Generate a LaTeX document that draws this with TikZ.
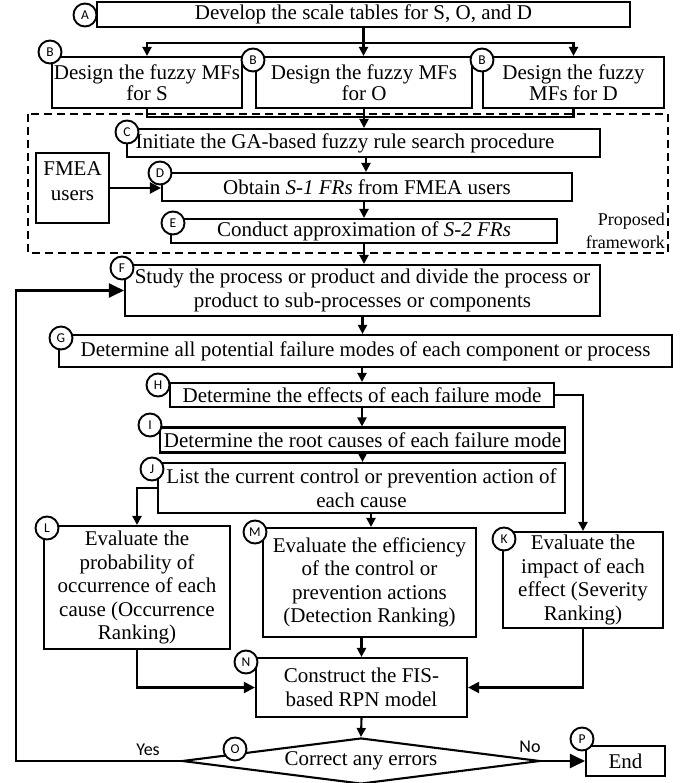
\documentclass[tikz,border=0pt]{standalone}
\usepackage{fontspec}
\setmainfont{Liberation Serif}
\newfontfamily\labfont{Carlito}
\usetikzlibrary{arrows.meta,shapes.geometric}
\begin{document}
\begin{tikzpicture}[x=1pt,y=-1pt,
  box/.style={draw, line width=2.1pt, inner sep=0pt, align=center, font=\fontsize{21}{23.5}\selectfont},
  txt/.style={inner sep=0pt, align=center, font=\fontsize{21}{25}\selectfont},
  lab/.style={circle, draw, line width=1.9pt, fill=white, minimum size=23pt, inner sep=0pt, font=\labfont\fontsize{13.5}{13.5}\selectfont},
  con/.style={line width=2.1pt},
  arr/.style={con, -{Triangle[length=9pt,width=9pt]}},
  midarr/.style={con, -{Triangle[length=11pt,width=11pt]}},
  bigarr/.style={con, -{Triangle[length=15pt,width=14pt]}},
  yn/.style={font=\labfont\fontsize{18}{18}\selectfont, inner sep=0pt}
]
\useasboundingbox (0,0) rectangle (695,783);

% boxes
\node[box, minimum width=533pt, minimum height=25pt] (A) at (363.5,14.5) {Develop the scale tables for S, O, and D};
\node[box, font=\fontsize{21}{21}\selectfont, minimum width=190pt, minimum height=51pt] (B1) at (147,82.5) {Design the fuzzy MFs\\for S};
\node[box, font=\fontsize{21}{21}\selectfont, minimum width=216pt, minimum height=51pt] (B2) at (364,82.5) {Design the fuzzy MFs\\for O};
\node[box, font=\fontsize{21}{21}\selectfont, minimum width=181pt, minimum height=51pt] (B3) at (573.5,82.5) {Design the fuzzy\\MFs for D};

\draw[line width=2pt, dash pattern=on 8pt off 5pt] (28,114) rectangle (668,253);

\node[box, minimum width=473pt, minimum height=28pt] (C) at (363.5,143) {Initiate the GA-based fuzzy rule search procedure\hspace*{37pt}};
\node[box, minimum width=73pt, minimum height=70pt] (U) at (72.5,188) {};
\node[txt] (Ut) at (72.5,181) {FMEA\\users};
\node[box, minimum width=410pt, minimum height=28pt] (D) at (367,187) {Obtain \textit{S-1 FRs} from FMEA users};
\node[box, minimum width=386pt, minimum height=24pt] (E) at (364,231) {Conduct approximation of \textit{S-2 FRs}};
\node[font=\fontsize{18}{23}\selectfont, align=right, anchor=east, inner sep=0pt] (pf) at (665,231) {Proposed\\framework};

\node[box, minimum width=475pt, minimum height=51pt] (F) at (362.5,290.5) {Study the process or product and divide the process or\\product to sub-processes or components};
\node[box, minimum width=613pt, minimum height=32pt] (G) at (365.5,351) {Determine all potential failure modes of each component or process};
\node[box, minimum width=384pt, minimum height=24pt] (H) at (362,395) {Determine the effects of each failure mode};
\node[box, minimum width=405pt, minimum height=25pt] (I) at (362.5,440) {Determine the root causes of each failure mode};
\node[box, minimum width=407pt, minimum height=50pt] (J) at (361.5,488) {List the current control or prevention action of\\each cause};
\node[box, minimum width=186pt, minimum height=123pt] (L) at (137,587.5) {Evaluate the\\probability of\\occurrence of each\\cause (Occurrence\\Ranking)};
\node[box, minimum width=213pt, minimum height=109pt] (M) at (369.5,582.5) {Evaluate the efficiency\\of the control or\\prevention actions\\(Detection Ranking)};
\node[box, minimum width=160pt, minimum height=96pt] (K) at (583,580) {Evaluate the\\impact of each\\effect (Severity\\Ranking)};
\node[box, minimum width=211pt, minimum height=59pt] (N) at (361.5,687.5) {Construct the FIS-\\based RPN model};
\node[box, shape=diamond, aspect=7.8, minimum width=358pt, minimum height=46pt] (O) at (361,761) {Correct any errors};
\node[box, minimum width=79pt, minimum height=30pt] (P) at (625.5,761) {End};

% helper coordinates
\coordinate (a1) at (0,43);
\coordinate (b1) at (0,117);
\coordinate (jm) at (371,0);
\coordinate (fb) at (16,0);

% connectors
\draw[arr] (A.south) -- (A.south |- B2.north);
\draw[arr] (A.south |- a1) -| (B1.north);
\draw[arr] (A.south |- a1) -| (B3.north);
\draw[con] (B1.south) |- (B3.south |- b1) -- (B3.south);
\draw[arr] (B2.south) -- (B2.south |- C.north);
\draw[arr] ([xshift=2.5pt]C.south) -- ([xshift=2.5pt]C.south |- D.north);
\draw[midarr] (U.east) -- (U.east -| D.west);
\draw[arr] (D.south -| E.north) -- (E.north);
\draw[arr] (E.south) -- (E.south |- F.north);
\draw[arr] (F.south) -- (F.south |- G.north);
\draw[arr] (G.south -| H.north) -- (H.north);
\draw[arr] (H.south) -- (H.south |- I.north);
\draw[arr] (I.south) -- (I.south |- J.north);
\draw[arr] (H.east) -| (K.north);
\draw[arr] (J.west) -| (L.north);
\draw[arr] (J.south -| jm) -- (M.north -| jm);
\draw[midarr] (L.south) |- (N.west);
\draw[midarr] (K.south) |- (N.east);
\draw[arr] (M.south -| N.north) -- (N.north);
\draw[arr] (N.south) -- (O.north);
\draw[bigarr] (O.east) -- (P.west);
\draw[bigarr] (O.west) -- (O.west -| fb) |- (F.west);

\node[yn] (yes) at (148,750) {Yes};
\node[yn] (no) at (530,747) {No};

% letter circles
\node[lab] (cA) at (85,15) {A};
\node[lab] (cB1) at (50,52) {B};
\node[lab] (cB2) at (253,60) {B};
\node[lab] (cB3) at (482,60) {B};
\node[lab] (cC) at (127,132) {C};
\node[lab] (cD) at (160,173) {D};
\node[lab] (cE) at (173,223) {E};
\node[lab] (cF) at (122,268) {F};
\node[lab] (cG) at (61,338) {G};
\node[lab] (cH) at (158,385) {H};
\node[lab] (cI) at (150,425) {I};
\node[lab] (cJ) at (152,469) {J};
\node[lab] (cL) at (47,528) {L};
\node[lab] (cM) at (255,532) {M};
\node[lab] (cK) at (504,539) {K};
\node[lab] (cN) at (246,662) {N};
\node[lab] (cO) at (235,749) {O};
\node[lab] (cP) at (582,739) {P};
\end{tikzpicture}
\end{document}
